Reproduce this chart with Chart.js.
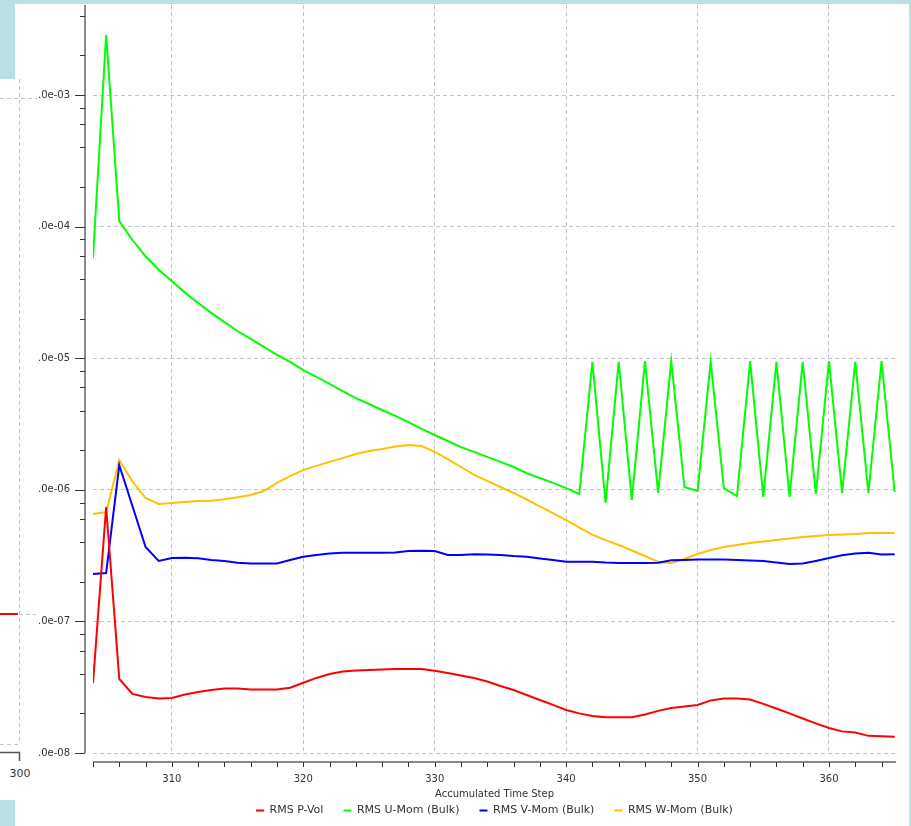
<!DOCTYPE html>
<html>
<head>
<meta charset="utf-8">
<title>Residuals</title>
<script src="https://cdn.jsdelivr.net/npm/chart.js@4.4.1/dist/chart.umd.min.js"></script>
<style>
html, body { margin: 0; padding: 0; }
body {
	width: 911px;
	height: 826px;
	position: relative;
	overflow: hidden;
	background: #b9e0e3;
	font-family: 'DejaVu Sans', sans-serif;
}
#main {
	position: absolute;
	left: 15px; top: 4px;
	width: 894px; height: 822px;
	background: #fff;
}
#side {
	position: absolute;
	left: 0; top: 79px;
	width: 37px; height: 721px;
	background: #fff;
}
#side svg { position: absolute; left: 0; top: 0; }
#box {
	position: absolute;
	left: 0; top: 0;
	width: 911px; height: 826px;
}
</style>
</head>
<body>
<div id="main"></div>
<div id="side">
	<svg width="37" height="721">
		<g stroke="#c4c4c4" stroke-width="1" stroke-dasharray="4 3" fill="none">
			<line x1="0" y1="19.5" x2="37" y2="19.5"/>
			<line x1="19.5" y1="0" x2="19.5" y2="665"/>
			<line x1="19" y1="535.5" x2="36" y2="535.5"/>
			<line x1="0" y1="665.5" x2="19" y2="665.5"/>
		</g>
		<line x1="0" y1="535" x2="18" y2="535" stroke="#ff0000" stroke-width="2"/>
		<path d="M0 673.5 H19.5 V682" stroke="#555" stroke-width="1.5" fill="none"/>
		<text x="20" y="698" font-family="DejaVu Sans" font-size="11" fill="#333" text-anchor="middle">300</text>
	</svg>
</div>
<div id="box"><canvas id="chart"></canvas></div>
<script>
/*
 * Residual history per accumulated time step.  One value per step for each
 * of the four monitored quantities.
 */
const steps = [
	304, 305, 306, 307, 308, 309, 310, 311, 312, 313, 314, 315, 316, 317,
	318, 319, 320, 321, 322, 323, 324, 325, 326, 327, 328, 329, 330, 331,
	332, 333, 334, 335, 336, 337, 338, 339, 340, 341, 342, 343, 344, 345,
	346, 347, 348, 349, 350, 351, 352, 353, 354, 355, 356, 357, 358, 359,
	360, 361, 362, 363, 364, 365,
];

const rmsPVol = [
	3.40e-8, 7.40e-7, 3.65e-8, 2.81e-8, 2.66e-8, 2.60e-8, 2.62e-8, 2.78e-8,
	2.91e-8, 3.01e-8, 3.09e-8, 3.09e-8, 3.04e-8, 3.04e-8, 3.04e-8, 3.13e-8,
	3.42e-8, 3.72e-8, 3.98e-8, 4.16e-8, 4.24e-8, 4.27e-8, 4.31e-8, 4.35e-8,
	4.35e-8, 4.35e-8, 4.22e-8, 4.05e-8, 3.88e-8, 3.72e-8, 3.49e-8, 3.23e-8,
	3.01e-8, 2.76e-8, 2.53e-8, 2.32e-8, 2.12e-8, 2.00e-8, 1.91e-8, 1.87e-8,
	1.87e-8, 1.87e-8, 1.96e-8, 2.09e-8, 2.20e-8, 2.26e-8, 2.32e-8, 2.51e-8,
	2.59e-8, 2.60e-8, 2.55e-8, 2.36e-8, 2.18e-8, 2.00e-8, 1.83e-8, 1.68e-8,
	1.55e-8, 1.46e-8, 1.43e-8, 1.35e-8, 1.34e-8, 1.33e-8,
];

const rmsUMom = [
	5.77e-5, 2.86e-3, 1.10e-4, 7.91e-5, 5.95e-5, 4.70e-5, 3.85e-5, 3.15e-5,
	2.63e-5, 2.21e-5, 1.88e-5, 1.61e-5, 1.40e-5, 1.22e-5, 1.06e-5, 9.36e-6,
	8.13e-6, 7.20e-6, 6.37e-6, 5.63e-6, 4.98e-6, 4.49e-6, 4.04e-6, 3.64e-6,
	3.27e-6, 2.90e-6, 2.61e-6, 2.35e-6, 2.11e-6, 1.94e-6, 1.78e-6, 1.63e-6,
	1.49e-6, 1.34e-6, 1.23e-6, 1.13e-6, 1.03e-6, 9.29e-7, 9.40e-6, 7.94e-7,
	9.40e-6, 8.37e-7, 9.50e-6, 9.46e-7, 9.50e-6, 1.05e-6, 9.79e-7, 9.40e-6,
	1.03e-6, 8.97e-7, 9.50e-6, 8.82e-7, 9.40e-6, 8.82e-7, 9.40e-6, 9.29e-7,
	9.50e-6, 9.46e-7, 9.40e-6, 9.46e-7, 9.50e-6, 9.62e-7,
];

const rmsVMom = [
	2.29e-7, 2.33e-7, 1.54e-6, 7.53e-7, 3.68e-7, 2.88e-7, 3.03e-7, 3.05e-7,
	3.02e-7, 2.93e-7, 2.88e-7, 2.79e-7, 2.76e-7, 2.76e-7, 2.76e-7, 2.93e-7,
	3.10e-7, 3.20e-7, 3.28e-7, 3.33e-7, 3.33e-7, 3.33e-7, 3.33e-7, 3.34e-7,
	3.43e-7, 3.44e-7, 3.43e-7, 3.20e-7, 3.20e-7, 3.24e-7, 3.22e-7, 3.20e-7,
	3.14e-7, 3.10e-7, 3.01e-7, 2.93e-7, 2.84e-7, 2.84e-7, 2.84e-7, 2.80e-7,
	2.78e-7, 2.78e-7, 2.78e-7, 2.79e-7, 2.91e-7, 2.93e-7, 2.95e-7, 2.96e-7,
	2.96e-7, 2.93e-7, 2.90e-7, 2.88e-7, 2.80e-7, 2.73e-7, 2.75e-7, 2.88e-7,
	3.03e-7, 3.18e-7, 3.28e-7, 3.33e-7, 3.22e-7, 3.24e-7,
];

const rmsWMom = [
	6.55e-7, 6.78e-7, 1.68e-6, 1.16e-6, 8.66e-7, 7.80e-7, 7.94e-7, 8.08e-7,
	8.22e-7, 8.26e-7, 8.47e-7, 8.77e-7, 9.13e-7, 9.79e-7, 1.13e-6, 1.27e-6,
	1.41e-6, 1.52e-6, 1.63e-6, 1.74e-6, 1.87e-6, 1.97e-6, 2.04e-6, 2.13e-6,
	2.19e-6, 2.15e-6, 1.94e-6, 1.71e-6, 1.49e-6, 1.30e-6, 1.17e-6, 1.05e-6,
	9.46e-7, 8.44e-7, 7.47e-7, 6.66e-7, 5.89e-7, 5.17e-7, 4.57e-7, 4.15e-7,
	3.81e-7, 3.46e-7, 3.14e-7, 2.83e-7, 2.78e-7, 2.98e-7, 3.25e-7, 3.49e-7,
	3.68e-7, 3.81e-7, 3.94e-7, 4.05e-7, 4.15e-7, 4.26e-7, 4.38e-7, 4.46e-7,
	4.53e-7, 4.57e-7, 4.61e-7, 4.70e-7, 4.70e-7, 4.70e-7,
];

const seriesNames = [
	'RMS P-Vol',
	'RMS U-Mom (Bulk)',
	'RMS V-Mom (Bulk)',
	'RMS W-Mom (Bulk)',
];
const seriesValues = [rmsPVol, rmsUMom, rmsVMom, rmsWMom];
const seriesColors = ['#ff0000', '#00ff00', '#0000ff', '#ffc000'];

/* Axis ranges and tick layout. */

const stepRange = [304, 365.1];
const stepTicks = [
	304, 306, 308, 310, 312, 314, 316, 318, 320, 322, 324, 326, 328, 330,
	332, 334, 336, 338, 340, 342, 344, 346, 348, 350, 352, 354, 356, 358,
	360, 362, 364,
];
const residualRange = [1e-8, 4.83e-3];
const decades = [1e-8, 1e-7, 1e-6, 1e-5, 1e-4, 1e-3];
const minorFactors = [2, 4, 6, 8];

const textColor = '#333';
const gridColor = '#c4c4c4';

/*
 * The axes sit a few pixels away from the plot area, so the library's own
 * border and tick marks are turned off and redrawn here from the scales.
 */
const detachedAxes = {
	id: 'detachedAxes',
	afterDraw(chart) {
		const {ctx, chartArea: area, scales} = chart;
		const ax = area.left - 8;
		const ay = area.bottom + 9;
		ctx.save();
		ctx.strokeStyle = '#666';
		ctx.lineWidth = 1.5;
		ctx.beginPath();
		ctx.moveTo(ax, area.top);
		ctx.lineTo(ax, area.bottom);
		ctx.moveTo(area.left, ay);
		ctx.lineTo(area.right, ay);
		ctx.stroke();

		ctx.strokeStyle = '#333';
		ctx.lineWidth = 1;
		ctx.beginPath();
		for (const tick of scales.y.ticks) {
			const py = Math.round(scales.y.getPixelForValue(tick.value)) + 0.5;
			ctx.moveTo(ax - (tick.major ? 10 : 5), py);
			ctx.lineTo(ax, py);
		}
		for (const tick of scales.x.ticks) {
			const px = Math.round(scales.x.getPixelForValue(tick.value)) + 0.5;
			ctx.moveTo(px, ay);
			ctx.lineTo(px, ay + 5);
		}
		ctx.stroke();
		ctx.restore();
	}
};

function expLabel(value)
{
	const exp = Math.round(Math.log10(value));
	return '.0e-' + String(-exp).padStart(2, '0');
}

window.addEventListener('load', () => {
	const datasets = seriesNames.map((name, i) => ({
		label: name,
		data: seriesValues[i],
		borderColor: seriesColors[i],
		backgroundColor: seriesColors[i],
		borderWidth: 2,
		pointRadius: 0,
		tension: 0,
		fill: false,
	}));

	new Chart(document.getElementById('chart'), {
		type: 'line',
		data: {
			labels: steps,
			datasets: datasets,
		},
		options: {
			responsive: true,
			maintainAspectRatio: false,
			animation: false,
			layout: {
				padding: {top: 5, right: 15, bottom: 0, left: 0},
			},
			plugins: {
				tooltip: {enabled: false},
				legend: {
					position: 'bottom',
					fullSize: false,
					labels: {
						boxWidth: 8,
						boxHeight: 2,
						padding: 20,
						color: textColor,
						font: {family: 'DejaVu Sans', size: 11},
						generateLabels: (chart) =>
							Chart.defaults.plugins.legend.labels
							.generateLabels(chart).map((item) => ({
								...item,
								lineWidth: 0,
								fillStyle: seriesColors[item.datasetIndex],
							})),
					},
				},
			},
			scales: {
				x: {
					type: 'linear',
					min: stepRange[0],
					max: stepRange[1],
					afterBuildTicks: (scale) => {
						scale.ticks = stepTicks.map((v) => ({
							value: v,
							major: v % 10 === 0,
						}));
					},
					afterFit: (scale) => {
						scale.height = 32;
						scale.paddingLeft = 0;
						scale.paddingRight = 0;
					},
					ticks: {
						autoSkip: false,
						maxRotation: 0,
						padding: 20,
						color: textColor,
						font: {family: 'DejaVu Sans', size: 10},
						callback: (value) =>
							value % 10 === 0 ? String(value) : '',
					},
					grid: {
						drawTicks: false,
						lineWidth: 1,
						color: (ctx) => ctx.tick && ctx.tick.value % 10 === 0 ?
							gridColor : 'rgba(0,0,0,0)',
					},
					border: {display: false, dash: [4, 3]},
					title: {
						display: true,
						text: 'Accumulated Time Step',
						color: textColor,
						font: {family: 'DejaVu Sans', size: 10},
						padding: {top: 0, bottom: -15},
					},
				},
				y: {
					type: 'logarithmic',
					min: residualRange[0],
					max: residualRange[1],
					afterBuildTicks: (scale) => {
						const ticks = [];
						for (const d of decades) {
							ticks.push({value: d, major: true});
							for (const f of minorFactors) {
								if (d * f <= residualRange[1])
									ticks.push({value: d * f, major: false});
							}
						}
						scale.ticks = ticks;
					},
					afterFit: (scale) => {
						scale.width = 93;
						scale.paddingTop = 0;
						scale.paddingBottom = 0;
					},
					ticks: {
						autoSkip: false,
						padding: 23,
						color: textColor,
						font: {family: 'DejaVu Sans', size: 10},
						callback: (value, index, ticks) =>
							ticks[index].major ? expLabel(value) : '',
					},
					grid: {
						drawTicks: false,
						lineWidth: 1,
						color: (ctx) => ctx.tick && ctx.tick.major ?
							gridColor : 'rgba(0,0,0,0)',
					},
					border: {display: false, dash: [4, 3]},
				},
			},
		},
		plugins: [detachedAxes],
	});
});
</script>
</body>
</html>
